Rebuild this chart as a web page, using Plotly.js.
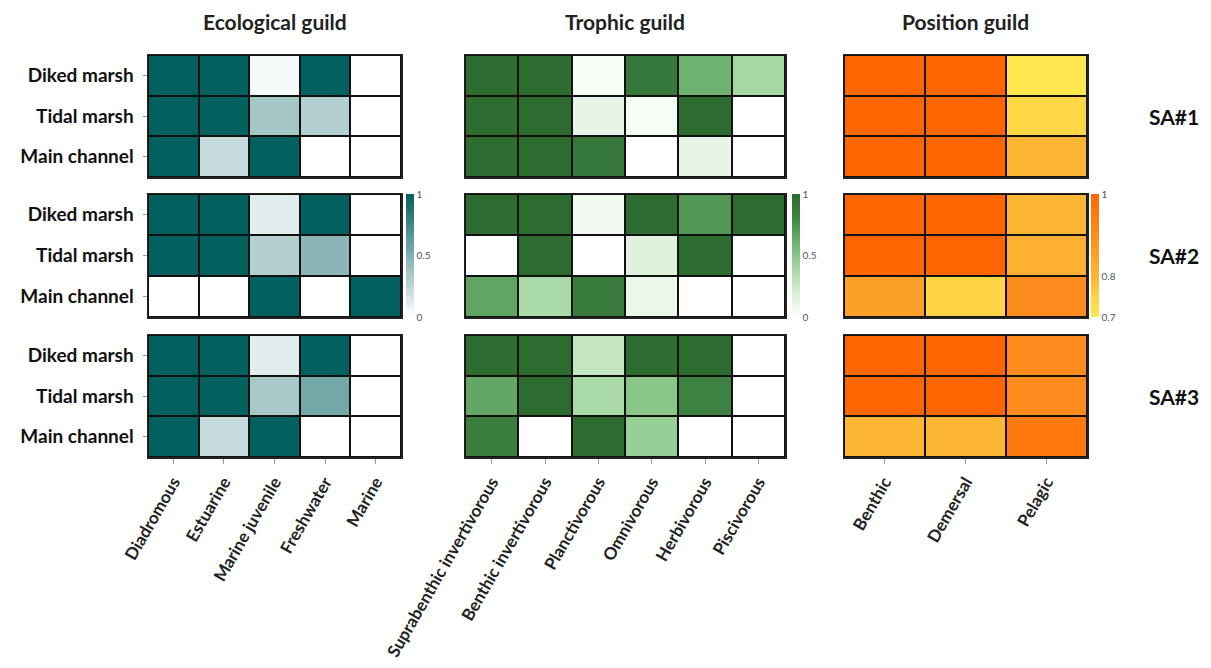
<!DOCTYPE html>
<html><head><meta charset="utf-8">
<script src="https://cdn.plot.ly/plotly-3.0.1.min.js"></script>
<style>html,body{margin:0;padding:0;background:#fff}#chart{width:1211px;height:668px}</style>
</head><body><div id="chart"></div>
<script>
// ---- data ----
const habitats = ['Diked marsh', 'Tidal marsh', 'Main channel'];
const ecoGuilds = ['Diadromous', 'Estuarine', 'Marine juvenile', 'Freshwater', 'Marine'];
const trophicGuilds = ['Suprabenthic invertivorous', 'Benthic invertivorous', 'Planctivorous', 'Omnivorous', 'Herbivorous', 'Piscivorous'];
const positionGuilds = ['Benthic', 'Demersal', 'Pelagic'];
const sites = ['SA#1', 'SA#2', 'SA#3'];
const panelTitles = ['Ecological guild', 'Trophic guild', 'Position guild'];

const ecoSA1 = [[1, 1, 0.04, 1, 0], [1, 1, 0.36, 0.30, 0], [1, 0.23, 1, 0, 0]];
const ecoSA2 = [[1, 1, 0.12, 1, 0], [1, 1, 0.30, 0.46, 0], [0, 0, 1, 0, 1]];
const ecoSA3 = [[1, 1, 0.12, 1, 0], [1, 1, 0.34, 0.55, 0], [1, 0.23, 1, 0, 0]];

const troSA1 = [[1, 1, 0.04, 0.9, 0.6, 0.4], [1, 1, 0.12, 0.04, 1, 0], [1, 1, 0.9, 0, 0.12, 0]];
const troSA2 = [[1, 1, 0.07, 1, 0.72, 1], [0, 1, 0, 0.15, 1, 0], [0.66, 0.38, 0.88, 0.1, 0, 0]];
const troSA3 = [[1, 1, 0.27, 1, 1, 0], [0.65, 1, 0.38, 0.5, 0.82, 0], [0.85, 0, 1, 0.45, 0, 0]];

const posSA1 = [[1, 1, 0.70], [1, 1, 0.74], [1, 1, 0.80]];
const posSA2 = [[1, 1, 0.80], [1, 1, 0.81], [0.85, 0.745, 0.90]];
const posSA3 = [[1, 1, 0.90], [1, 1, 0.90], [0.80, 0.80, 0.95]];

// ---- styling ----
const W = 1211, H = 668;
const colPx = [[148, 401], [465, 785], [844, 1087]];
const rowPx = [[55, 177], [194, 317], [335, 457]];
const cbPx = [406, 792, 1091];
const scales = [
  [[0, '#ffffff'], [1, '#02605f']],
  [[0, '#ffffff'], [0.2, '#d6eed3'], [0.4, '#a5d8a2'], [0.6, '#6fb270'], [0.8, '#3f8544'], [1, '#2d6b31']],
  [[0, '#ffe84f'], [0.15, '#ffd445'], [0.35, '#fdb232'], [0.65, '#fd8e1f'], [1, '#ff6600']]
];
const zr = [[0, 1], [0, 1], [0.7, 1]];
const cbTicks = [[0, 0.5, 1], [0, 0.5, 1], [0.7, 0.8, 1]];
const cats = [ecoGuilds, trophicGuilds, positionGuilds];
const zs = [[ecoSA1, ecoSA2, ecoSA3], [troSA1, troSA2, troSA3], [posSA1, posSA2, posSA3]];

const FONT = 'Lato, "Open Sans", sans-serif';
const data = [];
const layout = {
  width: W, height: H, margin: {l: 0, r: 0, t: 0, b: 0},
  paper_bgcolor: '#ffffff', plot_bgcolor: '#111111',
  font: {family: FONT, color: '#111'},
  showlegend: false, annotations: []
};

let k = 0;
for (let r = 0; r < 3; r++) {
  for (let c = 0; c < 3; c++) {
    k++;
    const xa = 'x' + (k === 1 ? '' : k), ya = 'y' + (k === 1 ? '' : k);
    const showCb = (r === 1);
    data.push({
      type: 'heatmap', x: cats[c], y: habitats, z: zs[c][r],
      xaxis: xa, yaxis: ya, colorscale: scales[c], zmin: zr[c][0], zmax: zr[c][1],
      xgap: 2, ygap: 2, showscale: showCb, hoverinfo: 'skip',
      colorbar: {
        x: cbPx[c] / W, xanchor: 'left', xpad: 0, ypad: 0,
        y: 1 - (rowPx[1][0] + rowPx[1][1]) / 2 / H, yanchor: 'middle',
        len: (rowPx[1][1] - rowPx[1][0]) / H, lenmode: 'fraction',
        thickness: 8, outlinewidth: 0, tickvals: cbTicks[c],
        ticks: '', tickfont: {size: 10, color: '#555', family: FONT}
      }
    });
    const xk = 'xaxis' + (k === 1 ? '' : k), yk = 'yaxis' + (k === 1 ? '' : k);
    layout[xk] = {
      domain: [colPx[c][0] / W, colPx[c][1] / W], anchor: ya, type: 'category',
      showline: true, mirror: true, linecolor: '#222', linewidth: 1.5,
      showgrid: false, zeroline: false, fixedrange: true,
      showticklabels: r === 2, ticks: r === 2 ? 'outside' : '', ticklen: 5, tickcolor: '#999',
      ticklabelstandoff: 2,
      tickangle: -60, tickfont: {size: 17, color: '#222', family: FONT, weight: 'bold'}
    };
    layout[yk] = {
      domain: [1 - rowPx[r][1] / H, 1 - rowPx[r][0] / H], anchor: xa, type: 'category',
      autorange: 'reversed', showline: true, mirror: true, linecolor: '#222', linewidth: 1.5,
      showgrid: false, zeroline: false, fixedrange: true,
      showticklabels: c === 0, ticks: c === 0 ? 'outside' : '', ticklen: 4, tickcolor: '#999',
      ticklabelstandoff: 5,
      tickfont: {size: 19, color: '#111', family: FONT, weight: 'bold'}
    };
  }
}

panelTitles.forEach((t, c) => {
  layout.annotations.push({
    text: '<b>' + t + '</b>', xref: 'paper', yref: 'paper', showarrow: false,
    x: (colPx[c][0] + colPx[c][1]) / 2 / W, y: 1 - 21 / H, xanchor: 'center', yanchor: 'middle',
    font: {size: 21, color: '#222', family: FONT}
  });
});
sites.forEach((s, r) => {
  layout.annotations.push({
    text: '<b>' + s + '</b>', xref: 'paper', yref: 'paper', showarrow: false,
    x: 1174 / W, y: 1 - ((rowPx[r][0] + rowPx[r][1]) / 2) / H, xanchor: 'center', yanchor: 'middle',
    font: {size: 21, color: '#111', family: FONT}
  });
});

Plotly.newPlot('chart', data, layout, {displayModeBar: false, staticPlot: true});
</script></body></html>
